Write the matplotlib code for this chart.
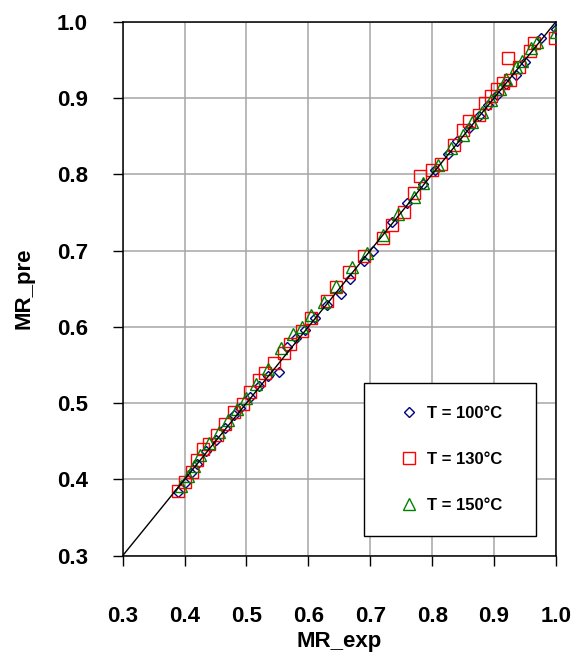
import matplotlib

matplotlib.use("Agg")
import matplotlib.pyplot as plt
from matplotlib.patches import Rectangle

plt.rcParams.update(
    {
        "font.family": ["Liberation Sans", "DejaVu Sans"],
        "font.weight": "bold",
        "font.size": 16,
    }
)

# ── data (MR_exp -> MR_pre) ──────────────────────────────────────────────────
mr_exp_100 = [0.39, 0.40, 0.41, 0.42, 0.435, 0.45, 0.465, 0.48, 0.49, 0.505, 0.52,
              0.535, 0.552, 0.565, 0.58, 0.595, 0.61, 0.63, 0.652, 0.668, 0.69, 0.705,
              0.735, 0.76, 0.785, 0.805, 0.825, 0.84, 0.86, 0.875, 0.89, 0.905, 0.92,
              0.935, 0.95, 0.975, 1.0]
mr_pre_100 = [0.383, 0.395, 0.408, 0.42, 0.437, 0.452, 0.468, 0.484, 0.494, 0.508, 0.522,
              0.535, 0.541, 0.573, 0.585, 0.596, 0.611, 0.629, 0.643, 0.663, 0.686, 0.700,
              0.737, 0.762, 0.787, 0.806, 0.826, 0.843, 0.86, 0.876, 0.891, 0.904, 0.918,
              0.93, 0.947, 0.979, 0.99]

mr_exp_130 = [0.39, 0.40, 0.412, 0.42, 0.43, 0.44, 0.452, 0.465, 0.48, 0.495, 0.505,
              0.52, 0.53, 0.545, 0.56, 0.57, 0.59, 0.605, 0.63, 0.645, 0.665, 0.69, 0.72,
              0.735, 0.755, 0.77, 0.781, 0.80, 0.815, 0.835, 0.85, 0.86, 0.875, 0.885,
              0.895, 0.905, 0.915, 0.923, 0.926, 0.94, 0.958, 0.965, 0.998]
mr_pre_130 = [0.385, 0.397, 0.41, 0.426, 0.44, 0.446, 0.458, 0.473, 0.488, 0.499, 0.515,
              0.53, 0.54, 0.552, 0.566, 0.578, 0.594, 0.612, 0.634, 0.652, 0.672, 0.693,
              0.716, 0.733, 0.751, 0.775, 0.798, 0.806, 0.813, 0.838, 0.858, 0.87, 0.878,
              0.894, 0.902, 0.912, 0.92, 0.953, 0.923, 0.94, 0.962, 0.972, 0.979]

mr_exp_150 = [0.395, 0.405, 0.415, 0.425, 0.44, 0.455, 0.47, 0.485, 0.50, 0.515, 0.535,
              0.555, 0.575, 0.59, 0.605, 0.625, 0.645, 0.67, 0.695, 0.72, 0.745, 0.77,
              0.785, 0.81, 0.83, 0.85, 0.865, 0.88, 0.895, 0.91, 0.92, 0.935, 0.945, 0.96,
              0.97, 1.0]
mr_pre_150 = [0.392, 0.405, 0.418, 0.432, 0.448, 0.462, 0.478, 0.492, 0.507, 0.525, 0.545,
              0.572, 0.59, 0.6, 0.615, 0.632, 0.653, 0.678, 0.697, 0.72, 0.748, 0.77,
              0.788, 0.812, 0.835, 0.852, 0.868, 0.882, 0.897, 0.912, 0.925, 0.94, 0.948,
              0.965, 0.974, 0.986]

series = [
    (mr_exp_100, mr_pre_100, "D", 5.5, "#000080", "T = 100°C"),
    (mr_exp_130, mr_pre_130, "s", 8.5, "#ff0000", "T = 130°C"),
    (mr_exp_150, mr_pre_150, "^", 8.5, "#008000", "T = 150°C"),
]
ticks = [0.3, 0.4, 0.5, 0.6, 0.7, 0.8, 0.9, 1.0]
lims = (0.3, 1.0)


def main():
    fig = plt.figure(figsize=(5.82, 6.57), dpi=100)
    ax = fig.add_axes([0.2108, 0.1542, 0.9553 - 0.2108, 0.967 - 0.1542])

    for x, y, m, ms, col, lab in series:
        ax.plot(x, y, ls="none", marker=m, ms=ms, mfc="none", mec=col, mew=1.0,
                label=lab, zorder=3)
    ax.plot(lims, lims, color="black", lw=1.0, zorder=4)

    ax.set_xlim(lims)
    ax.set_ylim(lims)
    ax.set_xticks(ticks)
    ax.set_yticks(ticks)
    ax.set_xticklabels([f"{t:.1f}" for t in ticks])
    ax.set_yticklabels([f"{t:.1f}" for t in ticks])
    ax.tick_params(axis="both", direction="out", length=7, width=1.0, color="black")
    ax.tick_params(axis="x", pad=29)
    ax.tick_params(axis="y", pad=18)
    ax.grid(True, color="#a6a6a6", lw=1.1, zorder=0)
    ax.set_axisbelow(True)
    for sp in ax.spines.values():
        sp.set_linewidth(1.1)
        sp.set_color("black")

    ax.set_xlabel("MR_exp", fontweight="bold", labelpad=3)
    ax.set_ylabel("MR_pre", fontweight="bold", labelpad=16)

    # legend box drawn by hand so it is larger than its content
    ax.add_patch(Rectangle((0.557, 0.037), 0.397, 0.286, transform=ax.transAxes,
                           facecolor="white", edgecolor="black", lw=1.0, zorder=5))
    ax.legend(loc="center", bbox_to_anchor=(0.557, 0.037, 0.405, 0.286),
              bbox_transform=ax.transAxes, frameon=False, prop={"size": 12, "weight": "bold"},
              labelspacing=1.85, handletextpad=0.6, handlelength=1.0).set_zorder(6)

    fig.savefig("out.png", dpi=100)
    plt.close(fig)


if __name__ == "__main__":
    main()
